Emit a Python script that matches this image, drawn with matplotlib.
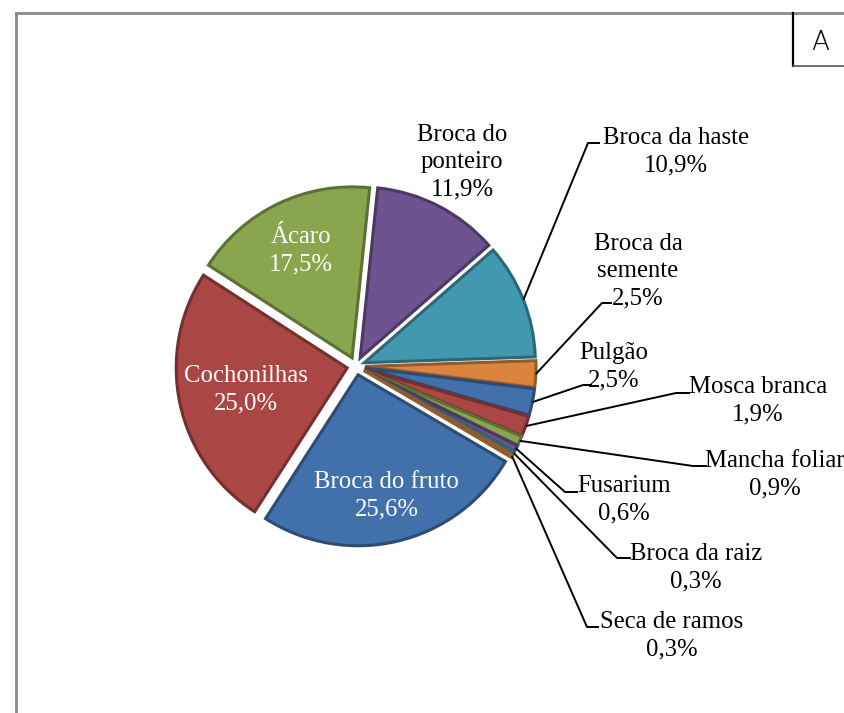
import matplotlib
matplotlib.use('Agg')
import matplotlib.pyplot as plt
import matplotlib.colors as mcolors
import numpy as np

categories = ['Broca do fruto', 'Cochonilhas', 'Ácaro', 'Broca do ponteiro',
              'Broca da haste', 'Broca da semente', 'Pulgão', 'Mosca branca',
              'Mancha foliar', 'Fusarium', 'Broca da raiz', 'Seca de ramos']
values = [25.6, 25.0, 17.5, 11.9, 10.9, 2.5, 2.5, 1.9, 0.9, 0.6, 0.3, 0.3]
pct_labels = ['25,6%', '25,0%', '17,5%', '11,9%', '10,9%', '2,5%', '2,5%',
              '1,9%', '0,9%', '0,6%', '0,3%', '0,3%']
label_text = ['Broca do fruto', 'Cochonilhas', 'Ácaro', 'Broca do\nponteiro',
              'Broca da haste', 'Broca da\nsemente', 'Pulgão', 'Mosca branca',
              'Mancha foliar', 'Fusarium', 'Broca da raiz', 'Seca de ramos']
colors = ['#4270AB', '#AA4643', '#89A54E', '#6E5391', '#4198AF', '#DB843D',
          '#4270AB', '#AA4643', '#89A54E', '#6E5391', '#4198AF', '#DB843D']

W, H = 845, 713
fig = plt.figure(figsize=(W / 100, H / 100), dpi=100)
ax = fig.add_axes([0, 0, 1, 1])

cx, cy = 356, H - 366
R = 171
wedges, _ = ax.pie(values, colors=colors, startangle=329.5, counterclock=False,
                   radius=R, center=(cx, cy), explode=[9] * len(values),
                   wedgeprops=dict(linewidth=2.2))
for w, c in zip(wedges, colors):
    dark = np.array(mcolors.to_rgb(c)) * 0.68
    w.set_edgecolor(dark)

ax.set_xlim(0, W)
ax.set_ylim(0, H)
ax.set_aspect('equal')
ax.axis('off')

FS = 17.8
FAM = 'Liberation Serif'
LS = 1.32

def mid_point(w, f=1.0):
    t = np.deg2rad((w.theta1 + w.theta2) / 2)
    return (w.center[0] + f * w.r * np.cos(t), w.center[1] + f * w.r * np.sin(t))

# inside labels (white)
inside = {0: 0.78, 1: 0.66, 2: 0.745}
for i, f in inside.items():
    t = np.deg2rad((wedges[i].theta1 + wedges[i].theta2) / 2)
    x = cx + f * R * np.cos(t)
    y = cy + f * R * np.sin(t)
    ax.text(x, y, label_text[i] + '\n' + pct_labels[i], color='white',
            ha='center', va='center', fontsize=FS, family=FAM, linespacing=LS)

# outside label layout: text center (image px), elbow point, hook end
outside = {
    3: ((462, 162), None, None),
    4: ((676, 152), (588, 143), (600, 143)),
    5: ((638, 271), (602, 303), (612, 303)),
    6: ((614, 367), (583, 385), (592, 385)),
    7: ((758, 401), (676, 393), (690, 393)),
    8: ((775, 475), (693, 466), (707, 466)),
    9: ((624, 500), (565, 492), (578, 492)),
    10: ((696, 568), (617, 558), (631, 558)),
    11: ((672, 636), (587, 627), (599, 627)),
}
for i, (tpos, elbow, hook) in outside.items():
    ax.text(tpos[0], H - tpos[1], label_text[i] + '\n' + pct_labels[i],
            color='black', ha='center', va='center', fontsize=FS, family=FAM,
            linespacing=LS, clip_on=False)
    if elbow is not None:
        sx, sy = mid_point(wedges[i])
        ax.plot([sx, elbow[0], hook[0]], [sy, H - elbow[1], H - hook[1]],
                color='black', lw=1.4, solid_capstyle='butt')

# outer frame
ax.plot([16, 16], [0, H - 13], color='#8a8a8a', lw=2, clip_on=False)
ax.plot([16, W], [H - 13, H - 13], color='#8a8a8a', lw=2, clip_on=False)
# "A" box
ax.plot([793, 793], [H - 13, H - 66], color='black', lw=1.6, clip_on=False)
ax.plot([793, W], [H - 66, H - 66], color='#555555', lw=1.2, clip_on=False)
ax.text(820, H - 43, 'A', ha='center', va='center', fontsize=19,
        family='DejaVu Sans', fontweight='light', color='black')

fig.savefig('out.png', dpi=100)
